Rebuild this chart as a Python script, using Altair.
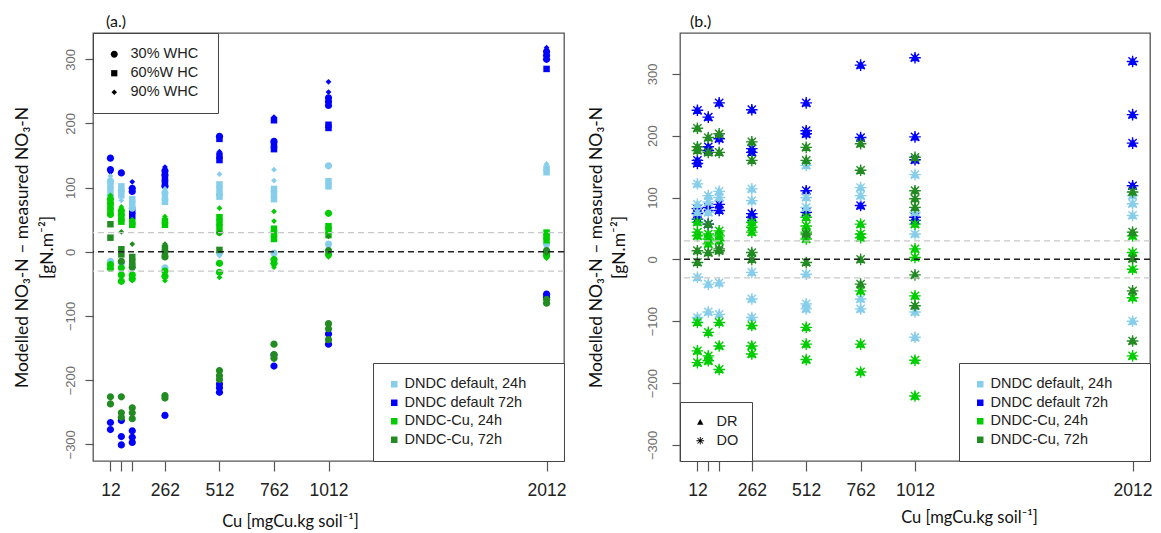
import altair as alt
import pandas as pd

# ---------------- data ----------------
CU_TICKS = [12, 62, 112, 262, 512, 762, 1012, 2012]
CU_LABELS = ["12", "", "", "262", "512", "762", "1012", "2012"]
Y_TICKS = [-300, -200, -100, 0, 100, 200, 300]
SERIES = ["DNDC default, 24h", "DNDC default 72h", "DNDC-Cu, 24h", "DNDC-Cu, 72h"]
SERIES_COLORS = ["#87CEEB", "#0000FF", "#00CD00", "#228B22"]
WHC_LEVELS = ["30% WHC", "60%W HC", "90% WHC"]
WHC_CODES = {"c": "30% WHC", "s": "60%W HC", "d": "90% WHC"}
METHODS = ["DR", "DO"]
ZERO_LINE = [0]
BAND_LINES = [30, -30]

# panel (a.): value, WHC code (c=30%, s=60%, d=90%) per Cu level
A_DEF24 = {
    12: [(118, "d"), (110, "c"), (104, "s"), (96, "s"), (88, "c"), (84, "d"), (-15, "c"), (-20, "d")],
    62: [(102, "s"), (95, "c"), (88, "s"), (80, "d"), (-18, "c"), (-30, "d")],
    112: [(82, "s"), (75, "s"), (68, "c"), (-20, "c"), (-28, "d")],
    262: [(98, "d"), (92, "c"), (84, "s"), (78, "s"), (-25, "c"), (-30, "d")],
    512: [(121, "d"), (105, "s"), (98, "s"), (90, "c"), (86, "s"), (-2, "c"), (-6, "d")],
    762: [(128, "d"), (111, "d"), (98, "s"), (90, "s"), (82, "s"), (-2, "c"), (-5, "d")],
    1012: [(134, "c"), (110, "s"), (102, "s"), (12, "c"), (8, "d")],
    2012: [(137, "d"), (130, "s"), (124, "s"), (12, "c"), (8, "d")],
}
A_DEF72 = {
    12: [(146, "c"), (128, "c"), (124, "d"), (-266, "c"), (-277, "c")],
    62: [(123, "c"), (-263, "c"), (-288, "c"), (-301, "c")],
    112: [(109, "d"), (99, "c"), (94, "c"), (64, "s"), (56, "s"), (-279, "c"), (-289, "c"), (-297, "c")],
    262: [(132, "d"), (126, "c"), (120, "c"), (114, "s"), (108, "s"), (102, "c"), (-255, "c")],
    512: [(180, "c"), (176, "s"), (156, "d"), (150, "s"), (143, "s"), (-206, "c"), (-212, "c"), (-219, "c")],
    762: [(210, "d"), (205, "s"), (172, "c"), (166, "s"), (160, "s"), (-161, "c"), (-178, "c")],
    1012: [(265, "d"), (249, "d"), (240, "c"), (234, "c"), (228, "c"), (198, "s"), (193, "s"), (-128, "c"), (-144, "c")],
    2012: [(318, "d"), (312, "c"), (306, "c"), (300, "c"), (285, "s"), (-66, "c"), (-71, "c")],
}
A_CU24 = {
    12: [(88, "d"), (82, "c"), (76, "c"), (70, "s"), (64, "s"), (58, "c"), (-20, "c"), (-26, "c")],
    62: [(70, "d"), (64, "c"), (58, "c"), (52, "s"), (47, "s"), (-25, "c"), (-36, "c"), (-46, "c")],
    112: [(50, "d"), (46, "s"), (42, "s"), (-36, "c"), (-42, "c"), (-45, "d")],
    262: [(55, "d"), (48, "s"), (42, "s"), (-30, "c"), (-38, "c"), (-45, "d")],
    512: [(68, "d"), (54, "s"), (46, "s"), (38, "s"), (30, "c"), (-18, "c"), (-32, "c"), (-40, "d")],
    762: [(63, "d"), (48, "d"), (36, "s"), (28, "s"), (20, "s"), (-12, "c"), (-18, "c"), (-24, "d")],
    1012: [(60, "c"), (40, "s"), (34, "s"), (26, "s"), (-4, "c"), (-8, "d")],
    2012: [(30, "s"), (24, "s"), (18, "s"), (-2, "c"), (-6, "c"), (-10, "d")],
}
A_CU72 = {
    12: [(43, "s"), (22, "s"), (-226, "c"), (-237, "c")],
    62: [(31, "d"), (4, "s"), (-4, "s"), (-15, "c"), (-226, "c"), (-251, "c"), (-258, "c")],
    112: [(12, "d"), (-8, "s"), (-16, "s"), (-24, "c"), (-243, "c"), (-251, "c"), (-260, "c")],
    262: [(12, "d"), (6, "s"), (-2, "s"), (-8, "c"), (-224, "c"), (-228, "c")],
    512: [(30, "d"), (3, "s"), (-185, "c"), (-193, "c"), (-199, "c")],
    762: [(-144, "c"), (-160, "c"), (-166, "c")],
    1012: [(24, "d"), (2, "c"), (-112, "c"), (-120, "c"), (-137, "c")],
    2012: [(2, "c"), (-2, "d"), (-74, "c"), (-80, "c")],
}

# panel (b.): values per Cu level (each drawn with both DR and DO symbols)
B_DEF24 = {12: [122, 89, 76, -29, -94], 62: [103, 93, 76, -40, -85], 112: [110, 100, -38, -89],
           262: [114, 95, -21, -64, -94], 512: [152, 100, 84, -24, -72, -80], 762: [116, 103, -64, -80],
           1012: [137, 76, 41, -85, -126], 2012: [103, 90, 71, -100]}
B_DEF72 = {12: [241, 160, 155, 82, 74, 65], 62: [230, 182, 176, 84, 57], 112: [253, 195, 89, 79],
           262: [242, 179, 173, 74, 68], 512: [253, 208, 203, 111, 76], 762: [314, 197, 87],
           1012: [326, 198, 161, 68, 63], 2012: [320, 234, 188, 119]}
B_CU24 = {12: [60, 44, 38, -102, -148, -167], 62: [41, 33, 25, -118, -156, -164],
          112: [46, 38, 30, -102, -140, -178], 262: [60, 52, 44, -107, -140, -153],
          512: [68, 54, 44, 33, -110, -137, -162], 762: [57, 41, 35, -51, -137, -182],
          1012: [57, 17, 3, -59, -163, -221], 2012: [38, 11, -16, -62, -156]}
B_CU72 = {12: [212, 182, 176, 14, -5], 62: [197, 173, 57, 11], 112: [203, 173, 17, 14],
          262: [190, 160, 11, 0], 512: [181, 160, 41, -5], 762: [187, 144, 0, -40],
          1012: [165, 111, 98, 84, -25, -75], 2012: [109, 44, 1, -51, -132]}

# ---------------- tables ----------------
def rows_a(series, data):
    return [{"series": series, "cu": cu, "value": v, "whc": WHC_CODES[w]}
            for cu, pts in data.items() for v, w in pts]

def rows_b(series, data):
    return [{"series": series, "cu": cu, "value": v, "method": m}
            for cu, vals in data.items() for v in vals for m in METHODS]

df_a = pd.DataFrame(rows_a(SERIES[1], A_DEF72) + rows_a(SERIES[0], A_DEF24)
                    + rows_a(SERIES[2], A_CU24) + rows_a(SERIES[3], A_CU72))
df_b = pd.DataFrame(rows_b(SERIES[1], B_DEF72) + rows_b(SERIES[0], B_DEF24)
                    + rows_b(SERIES[2], B_CU24) + rows_b(SERIES[3], B_CU72))
df_zero = pd.DataFrame({"value": ZERO_LINE})
df_band = pd.DataFrame({"value": BAND_LINES})

# symbol shapes (unit-square SVG paths)
CIRCLE = "M0,-1A1,1,0,1,1,0,1A1,1,0,1,1,0,-1Z"
SQUARE = "M-0.9,-0.9L0.9,-0.9L0.9,0.9L-0.9,0.9Z"
DIAMOND = "M0,-0.8L0.8,0L0,0.8L-0.8,0Z"
TRIANGLE = "M0,-0.85L0.82,0.62L-0.82,0.62Z"
ASTERISK = ("M-0.12,-1L0.12,-1L0.12,1L-0.12,1Z"
            "M-1,0.12L-1,-0.12L1,-0.12L1,0.12Z"
            "M-0.792,-0.622L-0.622,-0.792L0.792,0.622L0.622,0.792Z"
            "M-0.622,0.792L-0.792,0.622L0.622,-0.792L0.792,-0.622Z")

hidden = [t for t, l in zip(CU_TICKS, CU_LABELS) if not l]
X_LABEL_EXPR = f"indexof({hidden}, datum.value) >= 0 ? '' : datum.label"
NBSP = "\u00a0"

LABEL_FONT = "Liberation Sans, Arial"
TITLE_FONT = "Lato, Carlito, Open Sans"
Y_TITLE = ["Modelled NO\u2083-N \u2013 measured NO\u2083-N", "[gN.m\u207b\u00b2]"]
X_TITLE = "Cu [mgCu.kg soil\u207b\u00b9]"
W, H = 471, 428


def x_axis(title_x, title_y):
    return alt.Axis(values=CU_TICKS, format="d", labelExpr=X_LABEL_EXPR, labelOverlap=False,
                    labelFont=LABEL_FONT, labelFontSize=17.5, labelColor="#222",
                    labelPadding=10, tickSize=10, title=X_TITLE, titleFont=TITLE_FONT,
                    titleFontSize=16.5, titleFontWeight="normal", titleColor="#111",
                    titleX=title_x, titleY=title_y, titleBaseline="middle", titleAlign="center")


def y_axis(label_pad, title_x, line_h):
    return alt.Axis(values=Y_TICKS, labelAngle=270, labelAlign="center", labelBaseline="bottom",
                    labelFont=LABEL_FONT, labelFontSize=13, labelColor="#6e6e6e",
                    labelPadding=label_pad, tickSize=8, title=Y_TITLE, titleFont=TITLE_FONT,
                    titleFontSize=17.5, titleFontWeight="normal", titleColor="#111",
                    titleAngle=270, titleX=title_x, titleY=H / 2, titleBaseline="middle",
                    titleAlign="center", titleLineHeight=line_h)


x_scale = alt.Scale(domain=[-68, 2092], nice=False, zero=False)
color_scale = alt.Scale(domain=SERIES, range=SERIES_COLORS)
# blank right-hand "title" only widens the box to match the reference legend frame
color_legend = alt.Legend(orient="bottom-right", offset=0, title=NBSP, titleOrient="right",
                          titlePadding=24, symbolType="square", symbolSize=42, labelOffset=3,
                          labelLimit=400)


def ref_lines(y_scale):
    band = alt.Chart(df_band).mark_rule(color="#c8c8c8", strokeDash=[6, 4], strokeWidth=1.3).encode(
        y=alt.Y("value:Q", scale=y_scale))
    zero = alt.Chart(df_zero).mark_rule(color="#222", strokeDash=[6, 4], strokeWidth=1.5).encode(
        y=alt.Y("value:Q", scale=y_scale))
    return band, zero


# ---------------- panel (a.) ----------------
ys_a = alt.Scale(domain=[-326, 341], nice=False, zero=False)
pts_a = alt.Chart(df_a).mark_point(filled=True, opacity=1, strokeWidth=0, size=52).encode(
    x=alt.X("cu:Q", scale=x_scale, axis=x_axis(197, 60)),
    y=alt.Y("value:Q", scale=ys_a, axis=y_axis(8, -71, 25)),
    color=alt.Color("series:N", scale=color_scale, legend=color_legend),
    shape=alt.Shape("whc:N", scale=alt.Scale(domain=WHC_LEVELS, range=[CIRCLE, SQUARE, DIAMOND]),
                    legend=alt.Legend(orient="top-left", offset=0, title=NBSP, titleOrient="right",
                                      titlePadding=6, symbolSize=48, symbolFillColor="black",
                                      rowPadding=4, labelOffset=9, labelLimit=400)),
)
band_a, zero_a = ref_lines(ys_a)
panel_a = alt.layer(pts_a, band_a, zero_a).properties(
    width=W, height=H,
    title=alt.TitleParams("(a.)", anchor="start", frame="group", font=TITLE_FONT, fontSize=16,
                          fontWeight="normal", color="#111", dx=13, offset=3))

# ---------------- panel (b.) ----------------
ys_b = alt.Scale(domain=[-326, 366], nice=False, zero=False)
pts_b = alt.Chart(df_b).mark_point(filled=True, opacity=1, strokeWidth=0, size=135).encode(
    x=alt.X("cu:Q", scale=x_scale, axis=x_axis(289, 56)),
    y=alt.Y("value:Q", scale=ys_b, axis=y_axis(13, -83.5, 23)),
    color=alt.Color("series:N", scale=color_scale, legend=color_legend),
    shape=alt.Shape("method:N", scale=alt.Scale(domain=METHODS, range=[TRIANGLE, ASTERISK]),
                    legend=alt.Legend(orient="bottom-left", offset=0, title=None, symbolSize=60,
                                      symbolFillColor="black", labelOffset=9, padding=13)),
)
band_b, zero_b = ref_lines(ys_b)
panel_b = alt.layer(pts_b, band_b, zero_b).properties(
    width=470, height=H,
    title=alt.TitleParams("(b.)", anchor="start", frame="group", font=TITLE_FONT, fontSize=16,
                          fontWeight="normal", color="#111", dx=10, offset=3))

chart = (
    alt.hconcat(panel_a, panel_b, spacing=19)
    .resolve_scale(x="independent", y="independent", color="independent", shape="independent")
    .resolve_legend(color="independent", shape="independent")
    .properties(padding={"left": 12, "top": 12, "right": 5, "bottom": 5})
    .configure_view(stroke="#555", strokeWidth=1.3)
    .configure_axis(grid=False, domain=False, tickColor="#555", tickWidth=1.2)
    .configure_legend(strokeColor="#444", fillColor="white", padding=14, cornerRadius=0,
                      labelFont=LABEL_FONT, labelFontSize=14.5, labelColor="#222",
                      rowPadding=3.5, labelOffset=11, symbolStrokeWidth=0)
)

chart.save("out.html", embed_options={"renderer": "svg", "actions": False})
